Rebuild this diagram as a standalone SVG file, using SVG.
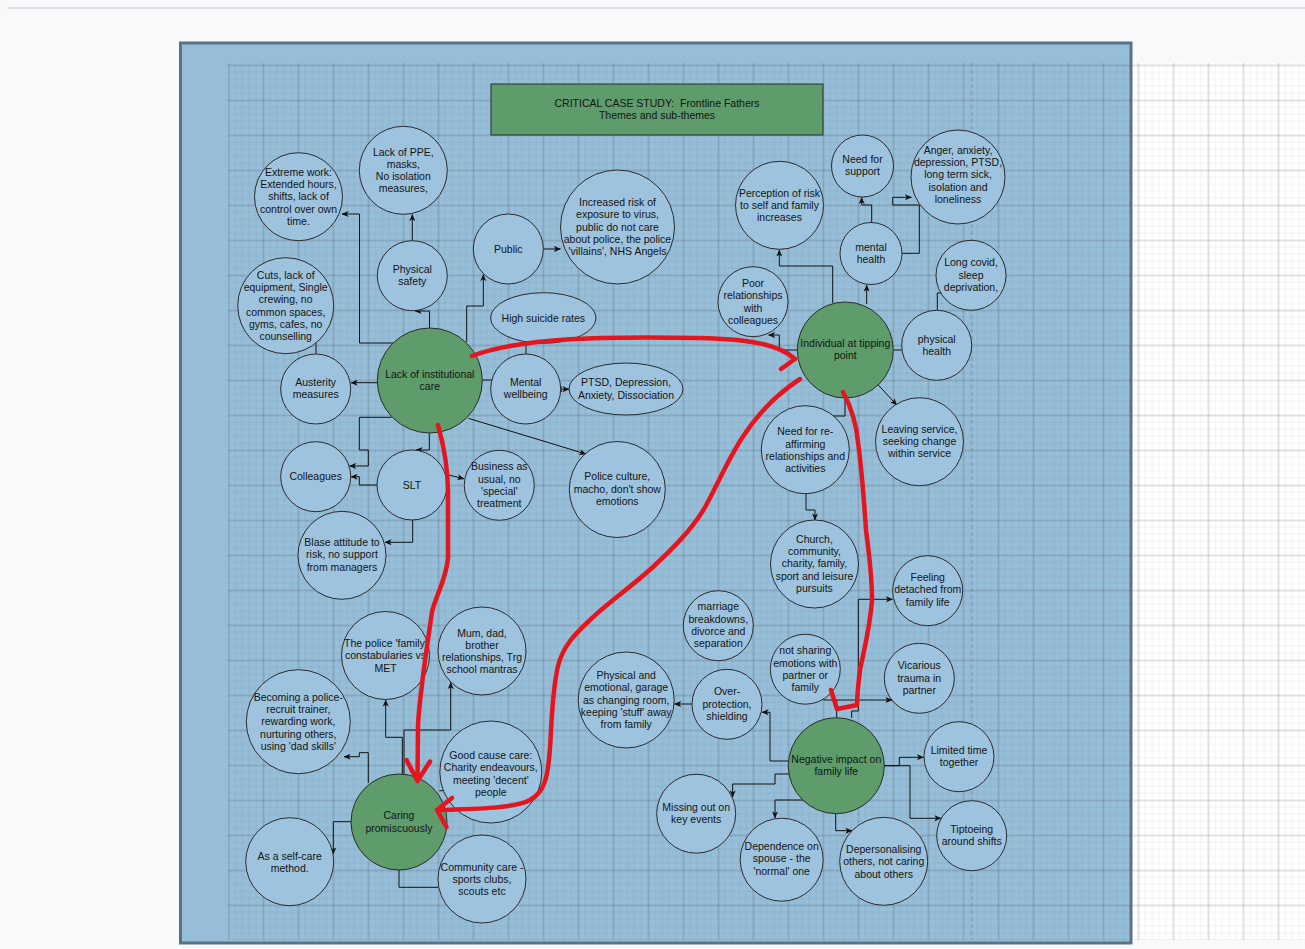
<svg xmlns="http://www.w3.org/2000/svg" width="1305" height="949" viewBox="0 0 1305 949">
<style>
.t{font-family:"Liberation Sans",Arial,sans-serif;font-size:10.5px;fill:#141414;text-anchor:middle}
.n{fill:#9dc3de;stroke:#2b2b2b;stroke-width:1}
.g{fill:#5e9c6b;stroke:#2b2b2b;stroke-width:1}
.e{fill:none;stroke:#111;stroke-width:1}
.ea{fill:none;stroke:#111;stroke-width:1;marker-end:url(#arr)}
.red{fill:none;stroke:#e3161f;stroke-width:4.5;stroke-linecap:round;stroke-linejoin:round}
</style>
<defs>
<pattern id="grid" x="227.5" y="64.5" width="35" height="35" patternUnits="userSpaceOnUse">
<rect x="7" y="0" width="1.2" height="35" fill="rgba(0,0,0,0.04)"/>
<rect x="14" y="0" width="1.2" height="35" fill="rgba(0,0,0,0.04)"/>
<rect x="21" y="0" width="1.2" height="35" fill="rgba(0,0,0,0.04)"/>
<rect x="28" y="0" width="1.2" height="35" fill="rgba(0,0,0,0.04)"/>
<rect x="0" y="7" width="35" height="1.2" fill="rgba(0,0,0,0.04)"/>
<rect x="0" y="14" width="35" height="1.2" fill="rgba(0,0,0,0.04)"/>
<rect x="0" y="21" width="35" height="1.2" fill="rgba(0,0,0,0.04)"/>
<rect x="0" y="28" width="35" height="1.2" fill="rgba(0,0,0,0.04)"/>
<rect x="0" y="0" width="2" height="35" fill="rgba(0,0,0,0.11)"/>
<rect x="0" y="0" width="35" height="2" fill="rgba(0,0,0,0.11)"/>
</pattern>
<marker id="arr" viewBox="0 0 8 8" refX="7.5" refY="4" markerWidth="7" markerHeight="7" orient="auto-start-reverse" markerUnits="userSpaceOnUse">
<path d="M0,0.6 L8,4 L0,7.4 L2,4 z" fill="#111"/>
</marker>
</defs>

<g id="background">
<rect x="0" y="0" width="1305" height="949" fill="#f8f9fa"/>
<rect x="7" y="7" width="1298" height="2" fill="#dfe0e3"/>
<rect x="228" y="63" width="1077" height="877" fill="#ffffff"/>
<rect x="180.5" y="43" width="950.5" height="900" fill="#97bed8"/>
<rect x="228" y="63" width="1077" height="877" fill="url(#grid)"/>
<line x1="972" y1="63" x2="972" y2="940" stroke="#7893a8" stroke-width="1" stroke-dasharray="4,3"/>
<rect x="180.5" y="43" width="950.5" height="900" fill="none" stroke="#5a7283" stroke-width="3"/>
</g>

<g id="title">
<rect x="491" y="84" width="332" height="51" fill="#5e9c6b" stroke="#2b2b2b" stroke-width="1"/>
<text class="t" x="657" y="107" xml:space="preserve" style="white-space:pre">CRITICAL CASE STUDY:  Frontline Fathers</text>
<text class="t" x="657" y="119">Themes and sub-themes</text>
</g>

<g id="connectors">
<path class="ea" d="M393,343 H359.5 V214 H342"/>
<path class="ea" d="M429.5,328 V311 H415"/>
<path class="ea" d="M412.3,240.7 V214.5"/>
<path class="ea" d="M466.7,342 V306 H483.3 V274.5"/>
<path class="ea" d="M543.3,249 H560.5"/>
<path class="e" d="M482.3,380 H492"/>
<path class="e" d="M526,343.3 V354"/>
<path class="e" d="M556,389.3 H569" style="marker-start:url(#arr);marker-end:url(#arr)"/>
<path class="ea" d="M377.3,382.7 H351"/>
<path class="e" d="M316,343 V354"/>
<path class="ea" d="M391.7,417.3 H359.3 V450 H368.3 V466 H349.5"/>
<path class="ea" d="M429.3,433 V450 H416"/>
<path class="ea" d="M377.3,485 H359.3 V476.7 H351"/>
<path class="ea" d="M445,474 L464,478.8"/>
<path class="ea" d="M412.7,520 V542.3 H385"/>
<path class="ea" d="M468.3,418.3 L586,454"/>
<path class="ea" d="M832.7,303 V266 H779.3 V250"/>
<path class="ea" d="M797,350 H779.3 V335 H768.5"/>
<path class="ea" d="M866.7,304 V285"/>
<path class="ea" d="M871.7,222.7 V205 H861.7 V197.5"/>
<path class="ea" d="M901.7,253.3 H919.3 V205 H892.7 V197.3 H911.5"/>
<path class="e" d="M894,350 H901.7"/>
<path class="e" d="M937.3,310.7 V293 H941.7"/>
<path class="ea" d="M878.3,385 L896.7,405"/>
<path class="e" d="M845,397.3 V416 H833"/>
<path class="ea" d="M806,493.5 V510 H815 V520"/>
<path class="ea" d="M851.7,718 V711 H858.3 V599.3 H892.5"/>
<path class="ea" d="M836.7,717.5 V700 H892"/>
<path class="e" d="M836.7,700 H823.3"/>
<path class="ea" d="M788.3,761 H770 V712.3 H762"/>
<path class="ea" d="M691.7,704 H674.5"/>
<path class="ea" d="M789,774 H775 V784 H732.7 V797"/>
<path class="ea" d="M803.3,800 H775 V818"/>
<path class="ea" d="M835.7,813.7 V830.7 H852"/>
<path class="ea" d="M884.3,765.7 H899.3 V757.3 H923.5"/>
<path class="ea" d="M884.3,765.7 H910 V818.3 H941"/>
<path class="ea" d="M402.3,774.5 V737.3 H385.7 V700"/>
<path class="ea" d="M404,774.3 V730 H450.7 V682.5"/>
<path class="ea" d="M368.3,783 V752.7 H359.3 V756.7 H344"/>
<path class="e" d="M439.3,790.7 H445"/>
<path class="ea" d="M351,821.7 H333.3 V854"/>
<path class="e" d="M399,870 V887.3 H438.3"/>
</g>

<g id="n-extreme"><circle class="n" cx="298.5" cy="196.7" r="44"/><text class="t" y="175.9"><tspan x="298.5">Extreme work:</tspan><tspan x="298.5" dy="12.25">Extended hours,</tspan><tspan x="298.5" dy="12.25">shifts, lack of</tspan><tspan x="298.5" dy="12.25">control over own</tspan><tspan x="298.5" dy="12.25">time.</tspan></text></g>
<g id="n-ppe"><circle class="n" cx="403.3" cy="170.3" r="44"/><text class="t" y="155.6"><tspan x="403.3">Lack of PPE,</tspan><tspan x="403.3" dy="12.25">masks,</tspan><tspan x="403.3" dy="12.25">No isolation</tspan><tspan x="403.3" dy="12.25">measures,</tspan></text></g>
<g id="n-physical-safety"><circle class="n" cx="412.3" cy="275.7" r="35"/><text class="t" y="273"><tspan x="412.3">Physical</tspan><tspan x="412.3" dy="12.25">safety</tspan></text></g>
<g id="n-public"><circle class="n" cx="508.3" cy="249" r="35"/><text class="t" x="508.3" y="252.7">Public</text></g>
<g id="n-increased-risk"><circle class="n" cx="617.5" cy="227" r="57"/><text class="t" y="206.2"><tspan x="617.5">Increased risk of</tspan><tspan x="617.5" dy="12.25">exposure to virus,</tspan><tspan x="617.5" dy="12.25">public do not care</tspan><tspan x="617.5" dy="12.25">about police, the police</tspan><tspan x="617.5" dy="12.25">'villains', NHS Angels</tspan></text></g>
<g id="n-suicide"><ellipse class="n" cx="543.3" cy="318" rx="52.7" ry="25.3"/><text class="t" x="543.3" y="321.7">High suicide rates</text></g>
<g id="n-perception"><circle class="n" cx="779.5" cy="205.3" r="44"/><text class="t" y="196.8"><tspan x="779.5">Perception of risk</tspan><tspan x="779.5" dy="12.25">to self and family</tspan><tspan x="779.5" dy="12.25">increases</tspan></text></g>
<g id="n-poor-relationships"><circle class="n" cx="753" cy="301.7" r="35"/><text class="t" y="287"><tspan x="753">Poor</tspan><tspan x="753" dy="12.25">relationships</tspan><tspan x="753" dy="12.25">with</tspan><tspan x="753" dy="12.25">colleagues</tspan></text></g>
<g id="n-need-support"><circle class="n" cx="862.5" cy="166" r="31"/><text class="t" y="163.2"><tspan x="862.5">Need for</tspan><tspan x="862.5" dy="12.25">support</tspan></text></g>
<g id="n-anger"><circle class="n" cx="958" cy="177" r="47"/><text class="t" y="153.9"><tspan x="958">Anger, anxiety,</tspan><tspan x="958" dy="12.25">depression, PTSD,</tspan><tspan x="958" dy="12.25">long term sick,</tspan><tspan x="958" dy="12.25">isolation and</tspan><tspan x="958" dy="12.25">loneliness</tspan></text></g>
<g id="n-mental-health"><circle class="n" cx="871" cy="253.5" r="31"/><text class="t" y="250.6"><tspan x="871">mental</tspan><tspan x="871" dy="12.25">health</tspan></text></g>
<g id="n-long-covid"><circle class="n" cx="971" cy="275.3" r="35"/><text class="t" y="266.3"><tspan x="971">Long covid,</tspan><tspan x="971" dy="12.25">sleep</tspan><tspan x="971" dy="12.25">deprivation,</tspan></text></g>
<g id="n-individual"><circle class="g" cx="845.3" cy="350" r="48"/><text class="t" y="346.8"><tspan x="845.3">Individual at tipping</tspan><tspan x="845.3" dy="12.25">point</tspan></text></g>
<g id="n-physical-health"><circle class="n" cx="936.7" cy="345.3" r="35"/><text class="t" y="342.7"><tspan x="936.7">physical</tspan><tspan x="936.7" dy="12.25">health</tspan></text></g>
<g id="n-leaving"><circle class="n" cx="919.5" cy="441.7" r="44"/><text class="t" y="432.5"><tspan x="919.5">Leaving service,</tspan><tspan x="919.5" dy="12.25">seeking change</tspan><tspan x="919.5" dy="12.25">within service</tspan></text></g>
<g id="n-reaffirming"><circle class="n" cx="805.3" cy="449.7" r="44"/><text class="t" y="435.3"><tspan x="805.3">Need for re-</tspan><tspan x="805.3" dy="12.25">affirming</tspan><tspan x="805.3" dy="12.25">relationships and</tspan><tspan x="805.3" dy="12.25">activities</tspan></text></g>
<g id="n-cuts"><circle class="n" cx="285.7" cy="305.7" r="48"/><text class="t" y="278.8"><tspan x="285.7">Cuts, lack of</tspan><tspan x="285.7" dy="12.25">equipment, Single</tspan><tspan x="285.7" dy="12.25">crewing, no</tspan><tspan x="285.7" dy="12.25">common spaces,</tspan><tspan x="285.7" dy="12.25">gyms, cafes, no</tspan><tspan x="285.7" dy="12.25">counselling</tspan></text></g>
<g id="n-austerity"><circle class="n" cx="315.7" cy="389" r="35"/><text class="t" y="386.1"><tspan x="315.7">Austerity</tspan><tspan x="315.7" dy="12.25">measures</tspan></text></g>
<g id="n-lack-care"><circle class="g" cx="429.8" cy="380.5" r="52.5"/><text class="t" y="377.5"><tspan x="429.8">Lack of institutional</tspan><tspan x="429.8" dy="12.25">care</tspan></text></g>
<g id="n-mental-wellbeing"><circle class="n" cx="525.7" cy="389" r="35"/><text class="t" y="386.1"><tspan x="525.7">Mental</tspan><tspan x="525.7" dy="12.25">wellbeing</tspan></text></g>
<g id="n-ptsd"><ellipse class="n" cx="626" cy="389" rx="57" ry="26"/><text class="t" y="386.4"><tspan x="626">PTSD, Depression,</tspan><tspan x="626" dy="12.25">Anxiety, Dissociation</tspan></text></g>
<g id="n-colleagues"><circle class="n" cx="315.7" cy="476.7" r="35"/><text class="t" x="315.7" y="480.4">Colleagues</text></g>
<g id="n-slt"><circle class="n" cx="412" cy="485" r="35"/><text class="t" x="412" y="488.7">SLT</text></g>
<g id="n-business"><circle class="n" cx="499.3" cy="485.3" r="35"/><text class="t" y="470.3"><tspan x="499.3">Business as</tspan><tspan x="499.3" dy="12.25">usual, no</tspan><tspan x="499.3" dy="12.25">'special'</tspan><tspan x="499.3" dy="12.25">treatment</tspan></text></g>
<g id="n-police-culture"><circle class="n" cx="617.3" cy="489.5" r="48"/><text class="t" y="480.3"><tspan x="617.3">Police culture,</tspan><tspan x="617.3" dy="12.25">macho, don't show</tspan><tspan x="617.3" dy="12.25">emotions</tspan></text></g>
<g id="n-blase"><circle class="n" cx="342" cy="555.3" r="44"/><text class="t" y="546.2"><tspan x="342">Blase attitude to</tspan><tspan x="342" dy="12.25">risk, no support</tspan><tspan x="342" dy="12.25">from managers</tspan></text></g>
<g id="n-police-family"><circle class="n" cx="385.5" cy="655.5" r="44"/><text class="t" y="647.1"><tspan x="385.5">The police 'family'</tspan><tspan x="385.5" dy="12.25">constabularies vs</tspan><tspan x="385.5" dy="12.25">MET</tspan></text></g>
<g id="n-mum-dad"><circle class="n" cx="482" cy="651" r="44"/><text class="t" y="636.6"><tspan x="482">Mum, dad,</tspan><tspan x="482" dy="12.25">brother</tspan><tspan x="482" dy="12.25">relationships, Trg</tspan><tspan x="482" dy="12.25">school mantras</tspan></text></g>
<g id="n-becoming"><circle class="n" cx="298.3" cy="721.7" r="52"/><text class="t" y="700.9"><tspan x="298.3">Becoming a police-</tspan><tspan x="298.3" dy="12.25">recruit trainer,</tspan><tspan x="298.3" dy="12.25">rewarding work,</tspan><tspan x="298.3" dy="12.25">nurturing others,</tspan><tspan x="298.3" dy="12.25">using 'dad skills'</tspan></text></g>
<g id="n-good-cause"><circle class="n" cx="490.8" cy="772" r="51"/><text class="t" y="759.1"><tspan x="490.8">Good cause care:</tspan><tspan x="490.8" dy="12.25">Charity endeavours,</tspan><tspan x="490.8" dy="12.25">meeting 'decent'</tspan><tspan x="490.8" dy="12.25">people</tspan></text></g>
<g id="n-caring"><circle class="g" cx="399" cy="822" r="48"/><text class="t" y="819.4"><tspan x="399">Caring</tspan><tspan x="399" dy="12.25">promiscuously</tspan></text></g>
<g id="n-self-care"><circle class="n" cx="289.7" cy="861.7" r="44"/><text class="t" y="859.5"><tspan x="289.7">As a self-care</tspan><tspan x="289.7" dy="12.25">method.</tspan></text></g>
<g id="n-community"><circle class="n" cx="482" cy="879" r="44"/><text class="t" y="870.6"><tspan x="482">Community care -</tspan><tspan x="482" dy="12.25">sports clubs,</tspan><tspan x="482" dy="12.25">scouts etc</tspan></text></g>
<g id="n-church"><circle class="n" cx="814.5" cy="564" r="44"/><text class="t" y="542.9"><tspan x="814.5">Church,</tspan><tspan x="814.5" dy="12.25">community,</tspan><tspan x="814.5" dy="12.25">charity, family,</tspan><tspan x="814.5" dy="12.25">sport and leisure</tspan><tspan x="814.5" dy="12.25">pursuits</tspan></text></g>
<g id="n-detached"><circle class="n" cx="927.7" cy="590.7" r="35"/><text class="t" y="581.2"><tspan x="927.7">Feeling</tspan><tspan x="927.7" dy="12.25">detached from</tspan><tspan x="927.7" dy="12.25">family life</tspan></text></g>
<g id="n-marriage"><circle class="n" cx="718.3" cy="625.7" r="35"/><text class="t" y="610.3"><tspan x="718.3">marriage</tspan><tspan x="718.3" dy="12.25">breakdowns,</tspan><tspan x="718.3" dy="12.25">divorce and</tspan><tspan x="718.3" dy="12.25">separation</tspan></text></g>
<g id="n-not-sharing"><circle class="n" cx="805.3" cy="669.2" r="35"/><text class="t" y="654.3"><tspan x="805.3">not sharing</tspan><tspan x="805.3" dy="12.25">emotions with</tspan><tspan x="805.3" dy="12.25">partner or</tspan><tspan x="805.3" dy="12.25">family</tspan></text></g>
<g id="n-vicarious"><circle class="n" cx="919.3" cy="678.3" r="35"/><text class="t" y="669.3"><tspan x="919.3">Vicarious</tspan><tspan x="919.3" dy="12.25">trauma in</tspan><tspan x="919.3" dy="12.25">partner</tspan></text></g>
<g id="n-garage"><circle class="n" cx="626.2" cy="700" r="48"/><text class="t" y="679"><tspan x="626.2">Physical and</tspan><tspan x="626.2" dy="12.25">emotional, garage</tspan><tspan x="626.2" dy="12.25">as changing room,</tspan><tspan x="626.2" dy="12.25">keeping 'stuff' away</tspan><tspan x="626.2" dy="12.25">from family</tspan></text></g>
<g id="n-over-protection"><circle class="n" cx="727" cy="704.3" r="35"/><text class="t" y="695.3"><tspan x="727">Over-</tspan><tspan x="727" dy="12.25">protection,</tspan><tspan x="727" dy="12.25">shielding</tspan></text></g>
<g id="n-negative"><circle class="g" cx="836.3" cy="765.7" r="48"/><text class="t" y="763.1"><tspan x="836.3">Negative impact on</tspan><tspan x="836.3" dy="12.25">family life</tspan></text></g>
<g id="n-limited"><circle class="n" cx="959" cy="756.7" r="35"/><text class="t" y="754.2"><tspan x="959">Limited time</tspan><tspan x="959" dy="12.25">together</tspan></text></g>
<g id="n-missing"><circle class="n" cx="696.2" cy="813.7" r="39.5"/><text class="t" y="811.1"><tspan x="696.2">Missing out on</tspan><tspan x="696.2" dy="12.25">key events</tspan></text></g>
<g id="n-dependence"><circle class="n" cx="781.7" cy="859.7" r="41.5"/><text class="t" y="850.2"><tspan x="781.7">Dependence on</tspan><tspan x="781.7" dy="12.25">spouse - the</tspan><tspan x="781.7" dy="12.25">'normal' one</tspan></text></g>
<g id="n-depersonalising"><circle class="n" cx="883.7" cy="861.3" r="44"/><text class="t" y="853"><tspan x="883.7">Depersonalising</tspan><tspan x="883.7" dy="12.25">others, not caring</tspan><tspan x="883.7" dy="12.25">about others</tspan></text></g>
<g id="n-tiptoeing"><circle class="n" cx="971.7" cy="835.7" r="35"/><text class="t" y="832.8"><tspan x="971.7">Tiptoeing</tspan><tspan x="971.7" dy="12.25">around shifts</tspan></text></g>

<g id="red-annotations">
<path class="red" d="M472,356 C520,338 600,336 700,338 C750,339 780,345 795,359 L781,369"/>
<path class="red" d="M438,425 C445,450 448,470 448,492 L448,558 C446,580 436,595 432,612 C428,640 420,690 418,725 L417.5,781 M406.5,760 L417.5,781 L430,761.5"/>
<path class="red" d="M800,379 C780,392 760,410 742,438 C726,463 716,488 704,509 C690,532 670,551 653,567 C630,588 606,604 590,620 C575,634 563,646 558,666 C552,692 552,718 550,748 C548,776 545,792 530,800 C515,808 480,809 437,810 M452,798 L437,810 L446.5,827"/>
<path class="red" d="M843,392 C850,405 856,420 858,442 C862,472 864,500 866,530 C870,560 872,580 872,600 C870,628 864,650 860,670 C858,686 857,696 857,705 L837,709 M831,690 L837,709"/>
</g>
</svg>
